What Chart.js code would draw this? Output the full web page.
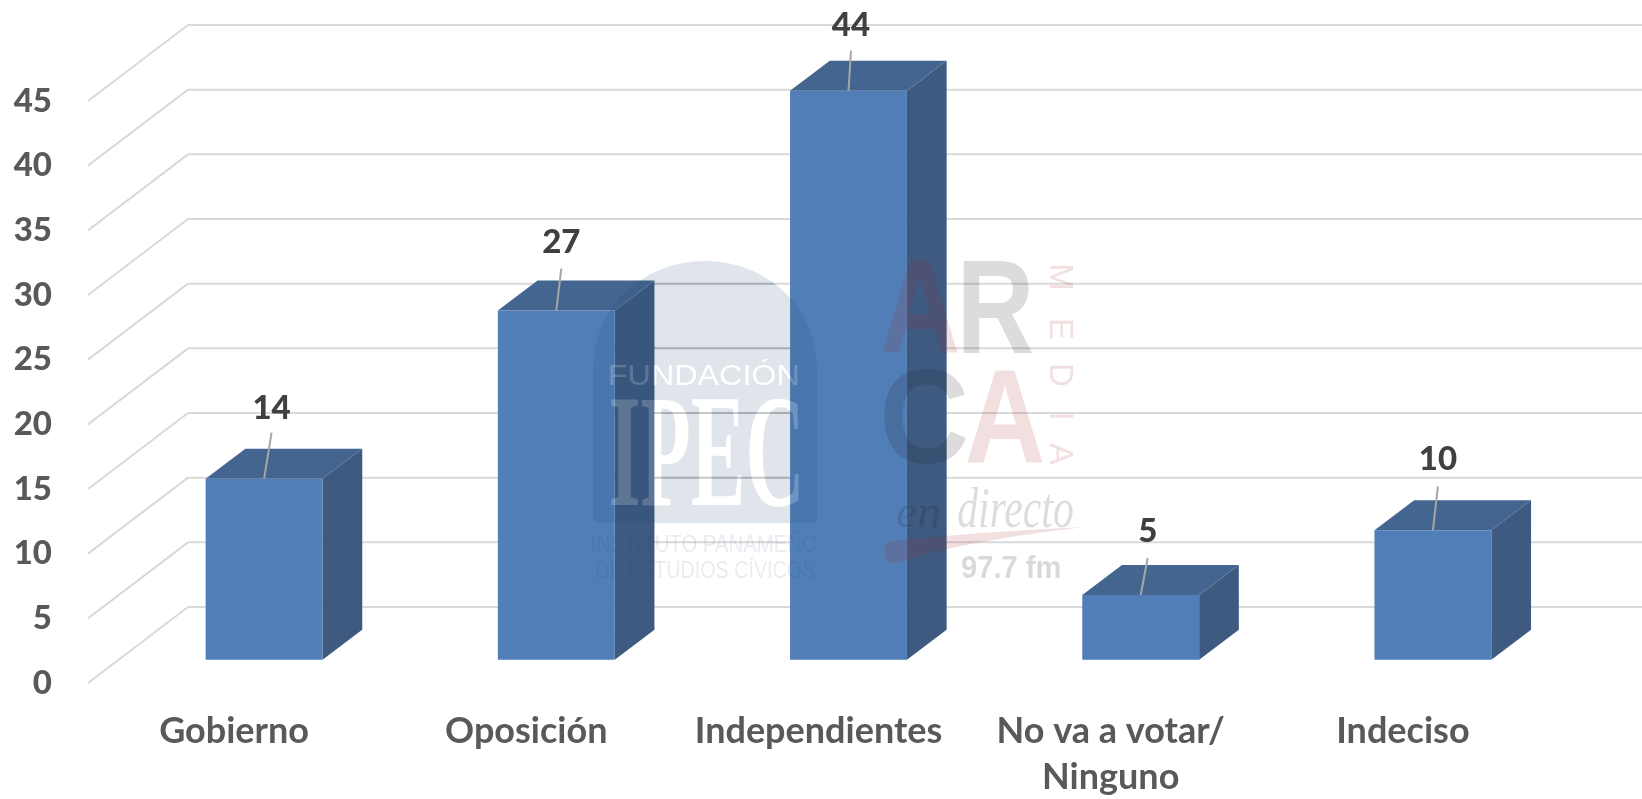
<!DOCTYPE html>
<html>
<head>
<meta charset="utf-8">
<style>html,body{margin:0;padding:0;background:#fff}canvas{display:block}</style>
<script src="https://cdn.jsdelivr.net/npm/chart.js@4"></script>
</head>
<body>
<canvas id="c" width="1642" height="799"></canvas>
<script>
const categories = ["Gobierno", "Oposición", "Independientes", ["No va a votar/", "Ninguno"], "Indeciso"];
const values = [14, 27, 44, 5, 10];
const yMax = 45;
const yStep = 5;

const labelLift = [71, 69, 66, 65, 72];
const leaderLift = [46, 42, 40, 37, 44];
const leaderShift = [7.5, 5, 2.5, 7, 5];

const WALL = {dx: 100, dy: -76};
const BAR = {dx: 30, dy: -23.3, depthX: 39.7, depthY: -30};
const COL = {front: "#517eb6", side: "#3e5a80", top: "#44658f", grid: "#d9d9d9", tick: "#595959", label: "#404040"};

function archPath(ctx) {
  ctx.beginPath();
  ctx.moveTo(593, 371);
  ctx.bezierCurveTo(593, 305, 645, 261, 705, 261);
  ctx.bezierCurveTo(765, 261, 817, 305, 817, 371);
  ctx.lineTo(817, 517);
  ctx.quadraticCurveTo(817, 523, 811, 523);
  ctx.lineTo(599, 523);
  ctx.quadraticCurveTo(593, 523, 593, 517);
  ctx.closePath();
}
function fitText(ctx, text, x0, x1, base, font) {
  ctx.save();
  ctx.font = font;
  ctx.textAlign = "left";
  ctx.textBaseline = "alphabetic";
  const m = ctx.measureText(text);
  const w = m.actualBoundingBoxLeft + m.actualBoundingBoxRight;
  ctx.translate(x0, base);
  ctx.scale((x1 - x0) / w, 1);
  ctx.fillText(text, m.actualBoundingBoxLeft, 0);
  ctx.restore();
}
const SANS = '"Liberation Sans"';
function ipecText(c) {
  fitText(c, "FUNDACIÓN", 610, 798, 385, '30px ' + SANS);
  fitText(c, "IPEC", 611, 799, 505, 'bold 160px "Liberation Serif"');
}
function drawWatermarks(ctx) {
  const off = document.createElement("canvas");
  off.width = 1642; off.height = 799;
  const o = off.getContext("2d");
  o.fillStyle = "rgba(30,70,110,0.14)";
  archPath(o); o.fill();
  o.globalCompositeOperation = "destination-out";
  o.fillStyle = "#000";
  ipecText(o);
  ctx.drawImage(off, 0, 0);
  ctx.fillStyle = "rgba(255,255,255,0.17)";
  ipecText(ctx);
  ctx.fillStyle = "rgba(30,70,110,0.10)";
  fitText(ctx, "INSTITUTO PANAMEÑO", 592, 817, 552, '23px ' + SANS);
  fitText(ctx, "DE ESTUDIOS CÍVICOS", 596, 815, 578, '23px ' + SANS);

  const pink = "rgba(170,40,50,0.15)", grey = "rgba(20,20,30,0.15)";
  const big = 'bold 134px ' + SANS;
  ctx.fillStyle = pink; fitText(ctx, "A", 882, 958, 353, big);
  ctx.fillStyle = grey; fitText(ctx, "R", 963, 1033, 353, big);
  ctx.fillStyle = grey; fitText(ctx, "C", 884, 967, 463, big);
  ctx.fillStyle = pink; fitText(ctx, "A", 967, 1043, 463, big);
  const media = [["M", 277], ["E", 329], ["D", 375], ["I", 416], ["A", 454]];
  ctx.save();
  ctx.fillStyle = pink;
  ctx.font = '33px ' + SANS;
  ctx.textAlign = "center";
  ctx.textBaseline = "middle";
  media.forEach(([ch, y]) => {
    ctx.save();
    ctx.translate(1060, y);
    ctx.rotate(Math.PI / 2);
    ctx.fillText(ch, 0, 1);
    ctx.restore();
  });
  ctx.restore();

  ctx.fillStyle = grey;
  fitText(ctx, "en", 897, 940, 527, 'italic 46px "Liberation Serif"');
  fitText(ctx, "directo", 958, 1073, 527, 'italic 56px "Liberation Serif"');
  ctx.fillStyle = pink;
  ctx.beginPath();
  ctx.moveTo(1085, 527);
  ctx.quadraticCurveTo(990, 531, 892, 541);
  ctx.bezierCurveTo(880, 544, 882, 563, 895, 563);
  ctx.bezierCurveTo(915, 558, 950, 543, 1085, 527);
  ctx.fill();
  ctx.fillStyle = "rgba(0,0,0,0.15)";
  fitText(ctx, "97.7 fm", 962, 1060, 578, 'bold 31px ' + SANS);
}
function wallLines(ctx, chart) {
  const {y} = chart.scales;
  y.ticks.forEach(t => {
    const py = y.getPixelForValue(t.value);
    ctx.beginPath();
    ctx.moveTo(chart.chartArea.left + WALL.dx, py + WALL.dy);
    ctx.lineTo(1642, py + WALL.dy);
    ctx.stroke();
  });
}

const wall3d = {
  id: "wall3d",
  beforeDatasetsDraw(chart) {
    const {ctx, chartArea, scales: {y}} = chart;
    ctx.save();
    ctx.strokeStyle = COL.grid;
    ctx.lineWidth = 2;
    wallLines(ctx, chart);
    y.ticks.forEach(t => {
      const py = y.getPixelForValue(t.value);
      ctx.beginPath();
      ctx.moveTo(chartArea.left, py);
      ctx.lineTo(chartArea.left + WALL.dx, py + WALL.dy);
      ctx.stroke();
    });
    archPath(ctx);
    ctx.clip();
    ctx.strokeStyle = "rgba(80,85,95,0.2)";
    wallLines(ctx, chart);
    ctx.restore();
  },
  beforeDatasetDraw(chart, args) {
    const {ctx} = chart;
    ctx.save();
    ctx.translate(BAR.dx, BAR.dy);
    chart.getDatasetMeta(args.index).data.forEach(b => {
      const {x, y, base, width} = b.getProps(["x", "y", "base", "width"], true);
      const l = x - width / 2, r = x + width / 2, dx = BAR.depthX, dy = BAR.depthY;
      ctx.fillStyle = COL.side;
      ctx.beginPath();
      ctx.moveTo(r, y); ctx.lineTo(r + dx, y + dy); ctx.lineTo(r + dx, base + dy); ctx.lineTo(r, base);
      ctx.closePath(); ctx.fill();
      ctx.fillStyle = COL.top;
      ctx.beginPath();
      ctx.moveTo(l, y); ctx.lineTo(l + dx, y + dy); ctx.lineTo(r + dx, y + dy); ctx.lineTo(r, y);
      ctx.closePath(); ctx.fill();
    });
  },
  afterDatasetDraw(chart) {
    chart.ctx.restore();
  },
  afterDraw(chart) {
    const {ctx} = chart;
    ctx.save();
    chart.getDatasetMeta(0).data.forEach((b, i) => {
      const {x, y} = b.getProps(["x", "y"], true);
      const fx = x + BAR.dx, fy = y + BAR.dy;
      ctx.strokeStyle = "#a6a6a6";
      ctx.lineWidth = 2;
      ctx.beginPath();
      ctx.moveTo(fx, fy);
      ctx.lineTo(fx + leaderShift[i], fy - leaderLift[i]);
      ctx.stroke();
      ctx.fillStyle = COL.label;
      ctx.font = '900 33px Lato';
      ctx.textAlign = "center";
      ctx.textBaseline = "middle";
      ctx.fillText(String(values[i]), fx + leaderShift[i], fy - labelLift[i] + 1);
    });
    drawWatermarks(ctx);
    ctx.restore();
  }
};

new Chart(document.getElementById("c"), {
  type: "bar",
  data: {
    labels: categories,
    datasets: [{
      data: values,
      backgroundColor: COL.front,
      borderWidth: 0,
      barPercentage: 0.4,
      categoryPercentage: 1,
      clip: false
    }]
  },
  options: {
    responsive: false,
    animation: false,
    devicePixelRatio: 1,
    layout: {padding: {top: 101, right: 93, left: 0, bottom: 0}},
    plugins: {legend: {display: false}, tooltip: {enabled: false}},
    scales: {
      x: {
        grid: {display: false},
        border: {display: false},
        ticks: {
          color: COL.tick,
          font: {family: "Lato", weight: "bold", size: 36, lineHeight: 1.28},
          padding: 17,
          maxRotation: 0,
          autoSkip: false
        },
        afterFit(s) { s.height = 116; }
      },
      y: {
        min: 0,
        max: yMax,
        grid: {display: false},
        border: {display: false},
        ticks: {
          stepSize: yStep,
          color: COL.tick,
          font: {family: "Lato", weight: "900", size: 33},
          padding: 28
        },
        afterFit(s) { s.width = 88; }
      }
    }
  },
  plugins: [wall3d]
});
</script>
</body>
</html>
